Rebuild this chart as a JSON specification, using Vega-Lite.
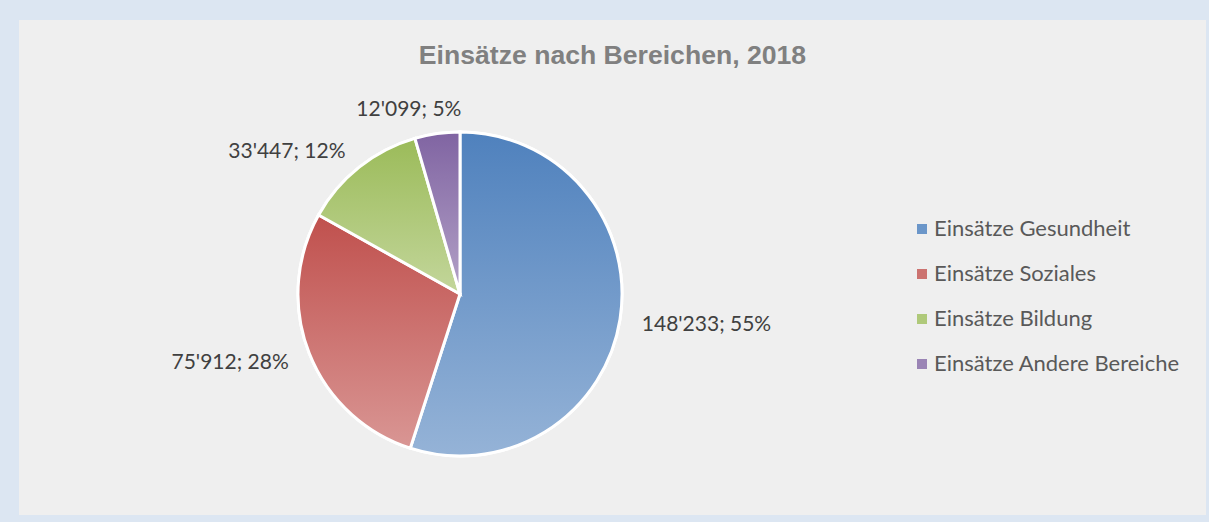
{
  "$schema": "https://vega.github.io/schema/vega-lite/v6.json",
  "background": "#dce6f2",
  "padding": {"left": 19, "top": 20, "right": 3, "bottom": 7},
  "spacing": 0,
  "config": {"view": {"stroke": null, "fill": "#efefef"}, "font": "Lato"},
  "datasets": {
    "main": [
      {"category": "Einsätze Gesundheit", "value": 148233, "label": "148'233; 55%", "order": 1},
      {"category": "Einsätze Soziales", "value": 75912, "label": "75'912; 28%", "order": 2},
      {"category": "Einsätze Bildung", "value": 33447, "label": "33'447; 12%", "order": 3},
      {"category": "Einsätze Andere Bereiche", "value": 12099, "label": "12'099; 5%", "order": 4}
    ]
  },
  "vconcat": [
    {
      "width": 1187,
      "height": 53,
      "view": {"fill": "#efefef", "stroke": null, "cornerRadius": 0},
      "data": {"values": []},
      "mark": "point",
      "title": {
        "text": "Einsätze nach Bereichen, 2018",
        "font": "Liberation Sans",
        "fontSize": 26.6,
        "fontWeight": "bold",
        "color": "#808080",
        "anchor": "middle",
        "baseline": "alphabetic",
        "offset": -71,
        "zindex": 1
      }
    },
    {
      "spacing": 0,
      "hconcat": [
        {
          "width": 882,
          "height": 442,
          "view": {"fill": "#efefef", "stroke": null, "cornerRadius": 0},
          "data": {"name": "main"},
          "encoding": {
            "theta": {"field": "value", "type": "quantitative", "stack": true},
            "order": {"field": "order", "type": "quantitative"}
          },
          "layer": [
            {
              "mark": {"type": "arc", "outerRadius": 162, "stroke": "white", "strokeWidth": 3},
              "encoding": {
                "color": {
                  "field": "category",
                  "type": "nominal",
                  "scale": {
                    "domain": ["Einsätze Gesundheit", "Einsätze Soziales", "Einsätze Bildung", "Einsätze Andere Bereiche"],
                    "range": ["#6b96c9", "#cc7370", "#afc97a", "#9a84b5"]
                  },
                  "legend": {
                    "title": null,
                    "orient": "none",
                    "legendX": 892,
                    "legendY": 198,
                    "labelFont": "Lato",
                    "labelFontSize": 22,
                    "labelColor": "#595959",
                    "labelLimit": 400,
                    "symbolType": "square",
                    "symbolSize": 100,
                    "symbolStrokeWidth": 0,
                    "labelOffset": 1,
                    "rowPadding": 23
                  }
                }
              }
            },
            {
              "mark": {"type": "arc", "outerRadius": 162, "stroke": "white", "strokeWidth": 3,
                "color": {"gradient": "linear", "x1": 0, "y1": 0, "x2": 0, "y2": 1, "stops": [{"offset": 0, "color": "#4f81bd"}, {"offset": 1, "color": "#95b3d7"}]}},
              "encoding": {"opacity": {"condition": {"test": "datum.order == 1", "value": 1}, "value": 0}}
            },
            {
              "mark": {"type": "arc", "outerRadius": 162, "stroke": "white", "strokeWidth": 3,
                "color": {"gradient": "linear", "x1": 0, "y1": 0, "x2": 0, "y2": 1, "stops": [{"offset": 0, "color": "#c0504d"}, {"offset": 1, "color": "#d99694"}]}},
              "encoding": {"opacity": {"condition": {"test": "datum.order == 2", "value": 1}, "value": 0}}
            },
            {
              "mark": {"type": "arc", "outerRadius": 162, "stroke": "white", "strokeWidth": 3,
                "color": {"gradient": "linear", "x1": 0, "y1": 0, "x2": 0, "y2": 1, "stops": [{"offset": 0, "color": "#9bbb59"}, {"offset": 1, "color": "#c3d69b"}]}},
              "encoding": {"opacity": {"condition": {"test": "datum.order == 3", "value": 1}, "value": 0}}
            },
            {
              "mark": {"type": "arc", "outerRadius": 162, "stroke": "white", "strokeWidth": 3,
                "color": {"gradient": "linear", "x1": 0, "y1": 0, "x2": 0, "y2": 1, "stops": [{"offset": 0, "color": "#8064a2"}, {"offset": 1, "color": "#b3a2c7"}]}},
              "encoding": {"opacity": {"condition": {"test": "datum.order == 4", "value": 1}, "value": 0}}
            },
            {
              "mark": {"type": "text", "radius": 184, "align": "left", "baseline": "middle", "dy": 2, "font": "Lato", "fontSize": 21, "color": "#404040"},
              "encoding": {
                "text": {"condition": {"test": "datum.order == 1", "field": "label"}, "value": ""}
              }
            },
            {
              "mark": {"type": "text", "radius": 184, "align": "right", "baseline": "middle", "dy": 2, "font": "Lato", "fontSize": 21, "color": "#404040"},
              "encoding": {
                "text": {"condition": {"test": "datum.order == 2 || datum.order == 3", "field": "label"}, "value": ""}
              }
            },
            {
              "mark": {"type": "text", "radius": 186, "align": "center", "baseline": "middle", "dx": -25, "font": "Lato", "fontSize": 21, "color": "#404040"},
              "encoding": {
                "text": {"condition": {"test": "datum.order == 4", "field": "label"}, "value": ""}
              }
            }
          ]
        },
        {
          "width": 305,
          "height": 442,
          "view": {"fill": "#efefef", "stroke": null, "cornerRadius": 0},
          "data": {"values": []},
          "mark": "point"
        }
      ]
    }
  ]
}
